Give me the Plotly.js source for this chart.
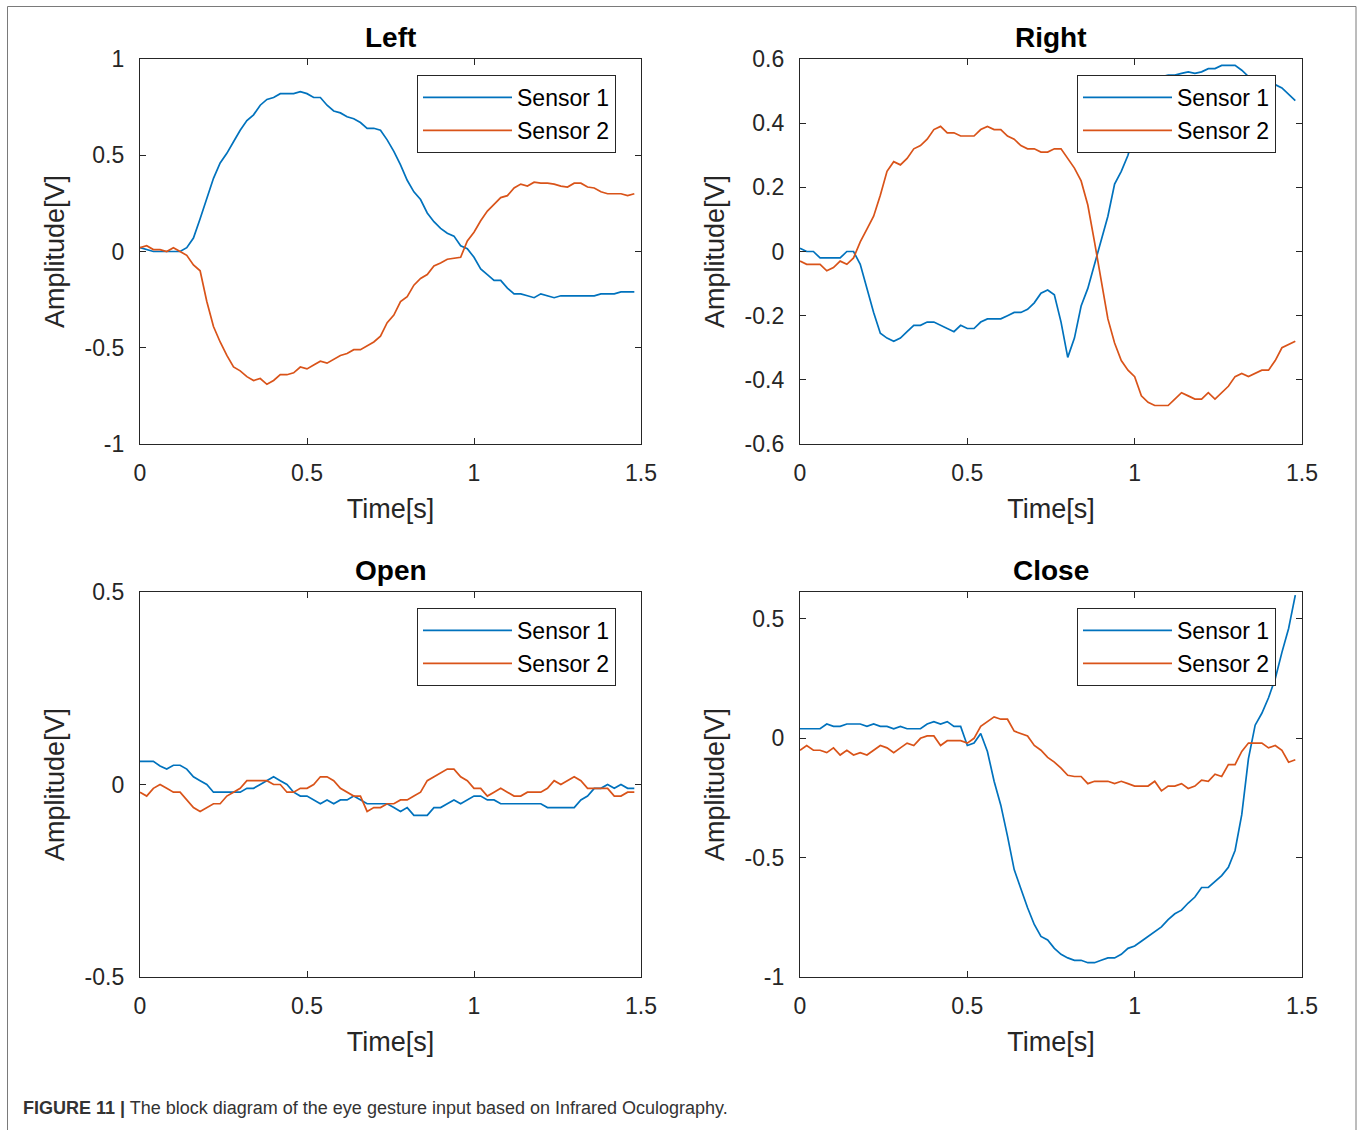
<!DOCTYPE html>
<html>
<head>
<meta charset="utf-8">
<script src="https://cdn.plot.ly/plotly-3.0.1.min.js"></script>
<style>
  html, body { margin: 0; padding: 0; background: #ffffff; }
  #chart { width: 1360px; height: 1130px; }
</style>
</head>
<body>
<div id="chart"></div>
<script>
// ---------- data ----------
const time = [0, 0.02, 0.04, 0.06, 0.08, 0.10, 0.12, 0.14, 0.16, 0.18,
  0.20, 0.22, 0.24, 0.26, 0.28, 0.30, 0.32, 0.34, 0.36, 0.38,
  0.40, 0.42, 0.44, 0.46, 0.48, 0.50, 0.52, 0.54, 0.56, 0.58,
  0.60, 0.62, 0.64, 0.66, 0.68, 0.70, 0.72, 0.74, 0.76, 0.78,
  0.80, 0.82, 0.84, 0.86, 0.88, 0.90, 0.92, 0.94, 0.96, 0.98,
  1.00, 1.02, 1.04, 1.06, 1.08, 1.10, 1.12, 1.14, 1.16, 1.18,
  1.20, 1.22, 1.24, 1.26, 1.28, 1.30, 1.32, 1.34, 1.36, 1.38,
  1.40, 1.42, 1.44, 1.46, 1.48];

const leftSensor1 = [0.02, 0.01, 0.0, 0.0, 0.0, 0.0, 0.0, 0.02, 0.07, 0.17,
  0.28, 0.38, 0.46, 0.51, 0.57, 0.63, 0.68, 0.71, 0.76, 0.79,
  0.80, 0.82, 0.82, 0.82, 0.83, 0.82, 0.80, 0.80, 0.76, 0.73,
  0.72, 0.70, 0.69, 0.67, 0.64, 0.64, 0.63, 0.58, 0.52, 0.45,
  0.37, 0.31, 0.27, 0.20, 0.155, 0.12, 0.095, 0.08, 0.03, 0.015,
  -0.03, -0.09, -0.12, -0.15, -0.15, -0.19, -0.22, -0.22, -0.23, -0.24,
  -0.22, -0.23, -0.24, -0.23, -0.23, -0.23, -0.23, -0.23, -0.23, -0.22,
  -0.22, -0.22, -0.21, -0.21, -0.21];
const leftSensor2 = [0.02, 0.03, 0.01, 0.01, 0.0, 0.02, 0.0, -0.02, -0.07, -0.10,
  -0.26, -0.39, -0.47, -0.54, -0.60, -0.62, -0.65, -0.67, -0.66, -0.69,
  -0.67, -0.64, -0.64, -0.63, -0.60, -0.61, -0.59, -0.57, -0.58, -0.56,
  -0.54, -0.53, -0.51, -0.51, -0.49, -0.47, -0.44, -0.37, -0.33, -0.26,
  -0.235, -0.175, -0.14, -0.12, -0.075, -0.06, -0.04, -0.035, -0.03, 0.055,
  0.10, 0.16, 0.21, 0.245, 0.28, 0.29, 0.33, 0.35, 0.34, 0.36,
  0.355, 0.355, 0.35, 0.34, 0.335, 0.355, 0.355, 0.335, 0.33, 0.31,
  0.30, 0.30, 0.30, 0.29, 0.30];

const rightSensor1 = [0.01, 0.0, 0.0, -0.02, -0.02, -0.02, -0.02, 0.0, 0.0, -0.04,
  -0.115, -0.19, -0.255, -0.27, -0.28, -0.27, -0.25, -0.23, -0.23, -0.22,
  -0.22, -0.23, -0.24, -0.25, -0.23, -0.24, -0.24, -0.22, -0.21, -0.21,
  -0.21, -0.20, -0.19, -0.19, -0.18, -0.16, -0.13, -0.12, -0.135, -0.22,
  -0.33, -0.27, -0.17, -0.115, -0.04, 0.03, 0.11, 0.21, 0.25, 0.30,
  0.37, 0.43, 0.48, 0.52, 0.545, 0.55, 0.55, 0.555, 0.56, 0.555,
  0.56, 0.57, 0.57, 0.58, 0.58, 0.58, 0.565, 0.545, 0.535, 0.53,
  0.525, 0.52, 0.51, 0.49, 0.47];
const rightSensor2 = [-0.03, -0.04, -0.04, -0.04, -0.06, -0.05, -0.03, -0.04, -0.02, 0.03,
  0.07, 0.11, 0.175, 0.25, 0.28, 0.27, 0.29, 0.32, 0.33, 0.35,
  0.38, 0.39, 0.37, 0.37, 0.36, 0.36, 0.36, 0.38, 0.39, 0.38,
  0.38, 0.36, 0.35, 0.33, 0.32, 0.32, 0.31, 0.31, 0.32, 0.32,
  0.29, 0.26, 0.22, 0.145, 0.03, -0.095, -0.21, -0.285, -0.34, -0.37,
  -0.39, -0.45, -0.47, -0.48, -0.48, -0.48, -0.46, -0.44, -0.45, -0.46,
  -0.46, -0.44, -0.46, -0.44, -0.42, -0.39, -0.38, -0.39, -0.38, -0.37,
  -0.37, -0.34, -0.30, -0.29, -0.28];

const openSensor1 = [0.06, 0.06, 0.06, 0.048, 0.04, 0.05, 0.05, 0.04, 0.02, 0.01,
  0.0, -0.02, -0.02, -0.02, -0.02, -0.02, -0.01, -0.01, 0.0, 0.01,
  0.02, 0.01, 0.0, -0.02, -0.03, -0.03, -0.04, -0.05, -0.04, -0.05,
  -0.04, -0.04, -0.03, -0.04, -0.05, -0.05, -0.05, -0.05, -0.06, -0.07,
  -0.06, -0.08, -0.08, -0.08, -0.06, -0.06, -0.05, -0.04, -0.05, -0.04,
  -0.03, -0.03, -0.04, -0.04, -0.05, -0.05, -0.05, -0.05, -0.05, -0.05,
  -0.05, -0.06, -0.06, -0.06, -0.06, -0.06, -0.04, -0.03, -0.01, -0.01,
  0.0, -0.01, 0.0, -0.01, -0.01];
const openSensor2 = [-0.02, -0.03, -0.01, 0.0, -0.01, -0.02, -0.02, -0.04, -0.06, -0.07,
  -0.06, -0.05, -0.05, -0.03, -0.02, -0.01, 0.01, 0.01, 0.01, 0.01,
  0.0, 0.0, -0.02, -0.02, -0.01, -0.01, 0.0, 0.02, 0.02, 0.01,
  -0.01, -0.02, -0.03, -0.03, -0.07, -0.06, -0.06, -0.05, -0.05, -0.04,
  -0.04, -0.03, -0.02, 0.01, 0.02, 0.03, 0.04, 0.04, 0.02, 0.01,
  -0.01, -0.01, -0.03, -0.02, -0.01, -0.02, -0.03, -0.03, -0.02, -0.02,
  -0.02, -0.01, 0.01, 0.0, 0.01, 0.02, 0.01, -0.01, -0.01, -0.01,
  -0.01, -0.03, -0.03, -0.02, -0.02];

const closeSensor1 = [0.04, 0.04, 0.04, 0.04, 0.06, 0.05, 0.05, 0.06, 0.06, 0.06,
  0.05, 0.06, 0.05, 0.05, 0.04, 0.05, 0.04, 0.04, 0.04, 0.06,
  0.07, 0.06, 0.07, 0.05, 0.05, -0.03, -0.02, 0.02, -0.055, -0.18,
  -0.28, -0.41, -0.55, -0.63, -0.71, -0.78, -0.83, -0.845, -0.88, -0.905,
  -0.92, -0.93, -0.93, -0.94, -0.94, -0.93, -0.92, -0.92, -0.905, -0.88,
  -0.87, -0.85, -0.83, -0.81, -0.79, -0.76, -0.735, -0.72, -0.69, -0.665,
  -0.625, -0.625, -0.60, -0.575, -0.54, -0.47, -0.32, -0.085, 0.055, 0.105,
  0.17, 0.25, 0.36, 0.46, 0.60];
const closeSensor2 = [-0.05, -0.03, -0.05, -0.05, -0.06, -0.04, -0.07, -0.05, -0.07, -0.06,
  -0.07, -0.05, -0.03, -0.04, -0.06, -0.04, -0.02, -0.03, 0.0, 0.01,
  0.01, -0.03, -0.01, -0.01, -0.01, -0.02, 0.0, 0.05, 0.07, 0.09,
  0.08, 0.08, 0.03, 0.02, 0.01, -0.03, -0.05, -0.08, -0.10, -0.125,
  -0.155, -0.16, -0.16, -0.19, -0.18, -0.18, -0.18, -0.19, -0.18, -0.19,
  -0.20, -0.20, -0.20, -0.18, -0.22, -0.20, -0.20, -0.19, -0.21, -0.20,
  -0.175, -0.18, -0.15, -0.16, -0.11, -0.11, -0.055, -0.02, -0.02, -0.02,
  -0.04, -0.03, -0.05, -0.10, -0.09];

const panelTitles = ['Left', 'Right', 'Open', 'Close'];
const seriesNames = ['Sensor 1', 'Sensor 2'];
const xTickVals = [0, 0.5, 1, 1.5];
const xTickText = ['0', '0.5', '1', '1.5'];
const yTickValsLeft = [-1, -0.5, 0, 0.5, 1];
const yTickTextLeft = ['-1', '-0.5', '0', '0.5', '1'];
const yTickValsRight = [-0.6, -0.4, -0.2, 0, 0.2, 0.4, 0.6];
const yTickTextRight = ['-0.6', '-0.4', '-0.2', '0', '0.2', '0.4', '0.6'];
const yTickValsOpen = [-0.5, 0, 0.5];
const yTickTextOpen = ['-0.5', '0', '0.5'];
const yTickValsClose = [-1, -0.5, 0, 0.5];
const yTickTextClose = ['-1', '-0.5', '0', '0.5'];
const xTitle = 'Time[s]';
const yTitle = 'Amplitude[V]';
const caption = '<b>FIGURE 11 |</b> The block diagram of the eye gesture input based on Infrared Oculography.';

// ---------- styling ----------
const W = 1360, H = 1130;
const BLUE = '#0072BD', ORANGE = '#D95319';
const AX = '#262626';
const FONT = 'Liberation Sans, Arial, Helvetica, sans-serif';

const px = v => v / W;
const py = v => 1 - v / H;

const panels = [
  {s1: leftSensor1, s2: leftSensor2, xd: [140, 641], yd: [59, 444], yr: [-1, 1], tv: yTickValsLeft, tt: yTickTextLeft},
  {s1: rightSensor1, s2: rightSensor2, xd: [800, 1302], yd: [59, 444], yr: [-0.6, 0.6], tv: yTickValsRight, tt: yTickTextRight},
  {s1: openSensor1, s2: openSensor2, xd: [140, 641], yd: [592, 977], yr: [-0.5, 0.5], tv: yTickValsOpen, tt: yTickTextOpen},
  {s1: closeSensor1, s2: closeSensor2, xd: [800, 1302], yd: [592, 977], yr: [-1, 0.613], tv: yTickValsClose, tt: yTickTextClose}
];

const traces = [];
const layout = {
  width: W, height: H,
  margin: {l: 0, r: 0, t: 0, b: 0},
  paper_bgcolor: '#ffffff',
  plot_bgcolor: '#ffffff',
  font: {family: FONT, color: AX},
  showlegend: true,
  annotations: [],
  shapes: [
    {type: 'rect', xref: 'paper', yref: 'paper',
     x0: px(7.5), x1: px(1356), y0: -0.05, y1: py(6.5),
     line: {color: '#7a7a7a', width: 1}, fillcolor: 'rgba(0,0,0,0)', layer: 'below'}
  ]
};

panels.forEach((p, k) => {
  const n = k + 1;
  const xa = n === 1 ? 'x' : 'x' + n;
  const ya = n === 1 ? 'y' : 'y' + n;
  const lg = n === 1 ? 'legend' : 'legend' + n;
  traces.push({x: time, y: p.s1, xaxis: xa, yaxis: ya, legend: lg, type: 'scatter', mode: 'lines',
               name: seriesNames[0], line: {color: BLUE, width: 1.7}});
  traces.push({x: time, y: p.s2, xaxis: xa, yaxis: ya, legend: lg, type: 'scatter', mode: 'lines',
               name: seriesNames[1], line: {color: ORANGE, width: 1.7}});

  layout[n === 1 ? 'xaxis' : 'xaxis' + n] = {
    domain: [px(p.xd[0]), px(p.xd[1])], anchor: ya,
    range: [0, 1.5], tickvals: xTickVals, ticktext: xTickText,
    ticks: 'inside', ticklen: 6, tickwidth: 1, tickcolor: AX,
    showline: true, linecolor: AX, linewidth: 1.2, mirror: 'allticks',
    showgrid: false, zeroline: false, fixedrange: true,
    tickfont: {family: FONT, size: 23, color: AX},
    ticklabelstandoff: 8,
    title: {text: xTitle, font: {family: FONT, size: 27, color: AX}, standoff: 14}
  };
  layout[n === 1 ? 'yaxis' : 'yaxis' + n] = {
    domain: [py(p.yd[1]), py(p.yd[0])], anchor: xa,
    range: p.yr, tickvals: p.tv, ticktext: p.tt,
    ticks: 'inside', ticklen: 6, tickwidth: 1, tickcolor: AX,
    showline: true, linecolor: AX, linewidth: 1.2, mirror: 'allticks',
    showgrid: false, zeroline: false, fixedrange: true,
    tickfont: {family: FONT, size: 23, color: AX},
    ticklabelstandoff: 10,
    title: {text: yTitle, font: {family: FONT, size: 27, color: AX}, standoff: 12}
  };
  layout[lg] = {
    x: px(p.xd[0] + 277), y: py(p.yd[0] + 16), xanchor: 'left', yanchor: 'top',
    xref: 'paper', yref: 'paper',
    bgcolor: '#ffffff', bordercolor: AX, borderwidth: 1,
    font: {family: FONT, size: 23, color: '#000000'},
    itemwidth: 89, tracegroupgap: 0
  };
  layout.annotations.push({
    xref: 'paper', yref: 'paper', x: px((p.xd[0] + p.xd[1]) / 2), y: py(p.yd[0] - 22),
    xanchor: 'center', yanchor: 'middle', showarrow: false,
    text: '<b>' + panelTitles[k] + '</b>',
    font: {family: FONT, size: 28, color: '#000000'}
  });
});

layout.annotations.push({
  xref: 'paper', yref: 'paper', x: px(21), y: py(1108),
  xanchor: 'left', yanchor: 'middle', showarrow: false, align: 'left',
  text: caption,
  font: {family: FONT, size: 18, color: '#333333'}
});

Plotly.newPlot('chart', traces, layout, {displayModeBar: false, staticPlot: true});
</script>
</body>
</html>
